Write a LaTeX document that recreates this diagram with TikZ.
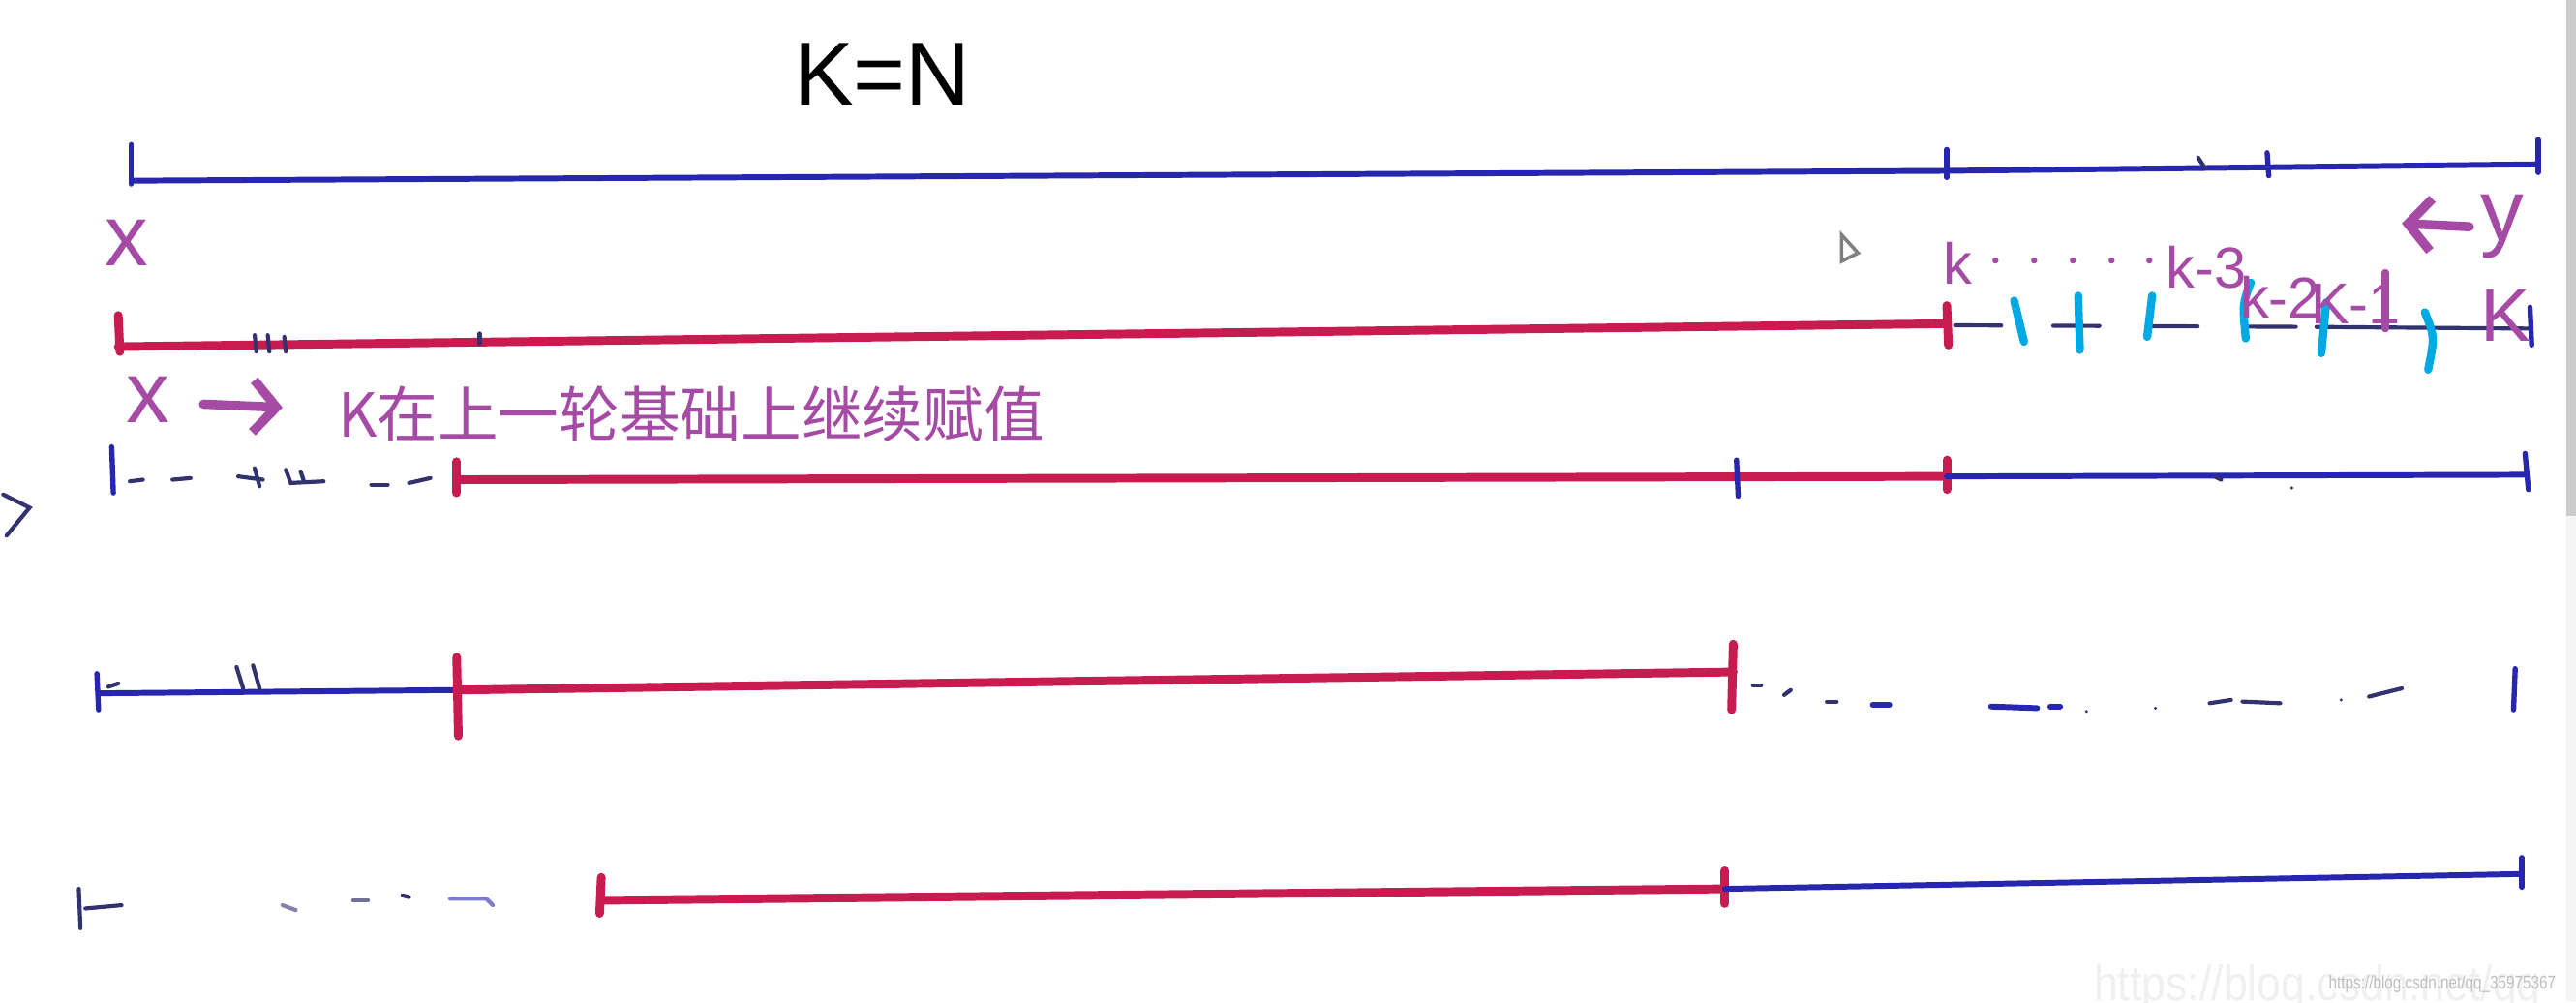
\documentclass[tikz,border=0pt]{standalone}
\usepackage{fontspec}
\setmainfont{Liberation Sans}
\newfontfamily\cjk{Noto Sans CJK SC}
\usetikzlibrary{arrows.meta}
\definecolor{penblue}{RGB}{38,38,175}
\definecolor{penred}{RGB}{200,28,80}
\definecolor{penpurple}{RGB}{165,75,165}
\definecolor{pencyan}{RGB}{0,168,228}
\definecolor{pendark}{RGB}{50,50,110}
\begin{document}
\begin{tikzpicture}[x=0.01cm, y=-0.01cm, line cap=round,
		blueline/.style={draw=penblue, line width=1pt},
		redline/.style={draw=penred, line width=1.5pt},
		bluetick/.style={draw=penblue, line width=0.9pt},
		redtick/.style={draw=penred, line width=1.5pt},
		scrap/.style={draw=pendark, line width=0.7pt},
		cyantick/.style={draw=pencyan, line width=1.4pt},
		handpen/.style={draw=penpurple, line width=1.6pt, -{Straight Barb[length=4pt, width=9pt]}},
		hand/.style={text=penpurple, font=\fontsize{15}{17}\selectfont, inner sep=0pt},
		klabel/.style={text=penpurple, font=\fontsize{10}{11}\selectfont, inner sep=0pt}]
	\useasboundingbox (0,0) rectangle (1568,610);
	\fill[white] (0,0) rectangle (1568,610);
	\fill[gray!8] (1562,0) rectangle (1568,610);
	\fill[gray!40] (1562,0) rectangle (1568,314);
	\node (title) at (537,45) {\fontsize{15.5}{18}\selectfont K=N};
		\draw[blueline] (80,110) -- (1185,104) -- (1545,100);
		\draw[bluetick] (80,88) -- (80,112);
		\draw[bluetick] (1185,91) -- (1185,108);
		\draw[scrap] (1338,96) -- (1342,102);
		\draw[bluetick] (1380,93) -- (1381,107);
		\draw[bluetick] (1545,85) -- (1545,105);
	\node[hand] (xa) at (77,148) {x};
	\node[hand] (ya) at (1523,138) {y};
	\coordinate (yend) at (1462,136);
		\draw[handpen] (ya.west) ++(-6,0) -- (yend);
		\draw[redline] (72,211) -- (1185,197);
		\draw[redtick] (72,192) -- (73,214);
		\draw[scrap] (155,204) -- (156,214);
		\draw[scrap] (163,204) -- (164,214);
		\draw[scrap] (173,205) -- (174,214);
		\draw[scrap] (292,203) -- (292,209);
		\draw[redtick] (1185,186) -- (1186,210);
		\draw[scrap, dash pattern=on 8pt off 9pt] (1190,198) -- (1410,199);
		\draw[scrap] (1410,199) -- (1540,200);
		\draw[bluetick] (1540,187) -- (1541,210);
		\draw[cyantick] (1226,183) -- (1232,208);
		\draw[cyantick] (1265,180) -- (1266,213);
		\draw[cyantick] (1310,180) -- (1307,205);
		\draw[cyantick] (1370,172) .. controls (1365,185) .. (1367,206);
		\draw[cyantick] (1416,184) -- (1413,215);
		\draw[cyantick] (1476,190) .. controls (1482,205) .. (1478,225);
	\node[klabel] (ka) at (1192,160) {k};
	\node[klabel] (dots) at (1262,160) {$\cdot\,\cdot\,\cdot\,\cdot\,\cdot$};
	\node[klabel] (kb) at (1343,163) {k-3};
	\node[klabel] (kc) at (1388,181) {k-2};
	\node[klabel] (kd) at (1434,185) {K-1};
		\draw[draw=penpurple, line width=1.3pt] (1452,166) -- (1452,200);
	\node[klabel, font=\fontsize{13}{14}\selectfont] (ke) at (1525,192) {K};
	\node[hand] (xb) at (90,243) {x};
	\coordinate (xend) at (172,248);
		\draw[handpen] (xb.east) ++(20,3) -- (xend);
	\node[text=penpurple, anchor=west, inner sep=0pt] (note) at (205,252) {\cjk\fontsize{10.5}{12}\selectfont K在上一轮基础上继续赋值};
		\draw[bluetick] (68,272) -- (69,300);
		\draw[scrap] (79,293) -- (87,292);
		\draw[scrap] (105,292) -- (116,291);
		\draw[scrap] (145,290) -- (160,292);
		\draw[scrap] (155,285) -- (158,296);
		\draw[scrap] (174,286) -- (177,294) -- (197,293);
		\draw[scrap] (183,287) -- (185,293);
		\draw[scrap] (226,295) -- (236,295);
		\draw[scrap] (249,294) -- (262,291);
		\draw[redline] (278,292) -- (1185,290);
		\draw[redtick] (278,281) -- (278,300);
		\draw[bluetick] (1057,280) -- (1058,302);
		\draw[redtick] (1185,280) -- (1185,298);
		\draw[blueline] (1185,290) -- (1538,289);
		\draw[scrap] (1348,290) -- (1352,292);
		\fill[pendark] (1395,297) circle (1);
		\draw[bluetick] (1537,276) -- (1539,298);
		\draw[scrap] (2,301) -- (18,309) -- (4,326);
		\draw[blueline] (60,422) -- (278,420);
		\draw[bluetick] (59,410) -- (60,432);
		\draw[scrap] (66,418) -- (72,416);
		\draw[scrap] (144,406) -- (148,419);
		\draw[scrap] (154,405) -- (158,419);
		\draw[redline] (278,420) -- (1055,409);
		\draw[redtick] (278,400) -- (279,448);
		\draw[redtick] (1055,392) -- (1054,432);
		\draw[scrap] (1067,417) -- (1072,417);
		\draw[scrap] (1086,423) -- (1090,420);
		\draw[scrap] (1112,427) -- (1118,427);
		\draw[line width=1pt, draw=penblue] (1140,429) -- (1150,429);
		\draw[line width=1pt, draw=penblue] (1212,430) -- (1240,431);
		\draw[line width=1pt, draw=penblue] (1248,430) -- (1254,430);
		\fill[pendark] (1270,433) circle (1);
		\fill[pendark] (1312,431) circle (1);
		\draw[scrap] (1345,428) -- (1358,426);
		\draw[scrap] (1365,427) -- (1388,428);
		\fill[pendark] (1425,426) circle (1);
		\draw[scrap] (1442,424) -- (1462,419);
		\draw[bluetick] (1531,407) -- (1530,432);
		\draw[scrap] (48,541) -- (49,565);
		\draw[scrap] (52,553) -- (74,551);
		\draw[scrap, draw=pendark!60] (172,551) -- (180,554);
		\draw[scrap, draw=pendark!70] (215,548) -- (224,548);
		\draw[scrap] (245,545) -- (249,546);
		\draw[scrap, draw=penblue!60] (274,547) -- (296,547) -- (300,551);
		\draw[redline] (366,548) -- (1050,541);
		\draw[redtick] (366,534) -- (365,556);
		\draw[redtick] (1050,530) -- (1050,550);
		\draw[blueline] (1050,541) -- (1535,532);
		\draw[bluetick] (1535,522) -- (1535,540);
		\draw[gray, line width=0.6pt, fill=white] (1121,143) -- (1121,159) -- (1131,154) -- cycle;
	\node[text=gray!12, anchor=base west, inner sep=0pt, xscale=0.88] (mark) at (1274,609) {\fontsize{8.5}{10}\selectfont https://blog.csdn.net/qq};
	\node[text=gray!50, anchor=west, inner sep=0pt, xscale=0.8] (markb) at (1417,599) {\fontsize{3.2}{4}\selectfont https://blog.csdn.net/qq\_35975367};
\end{tikzpicture}
\end{document}
